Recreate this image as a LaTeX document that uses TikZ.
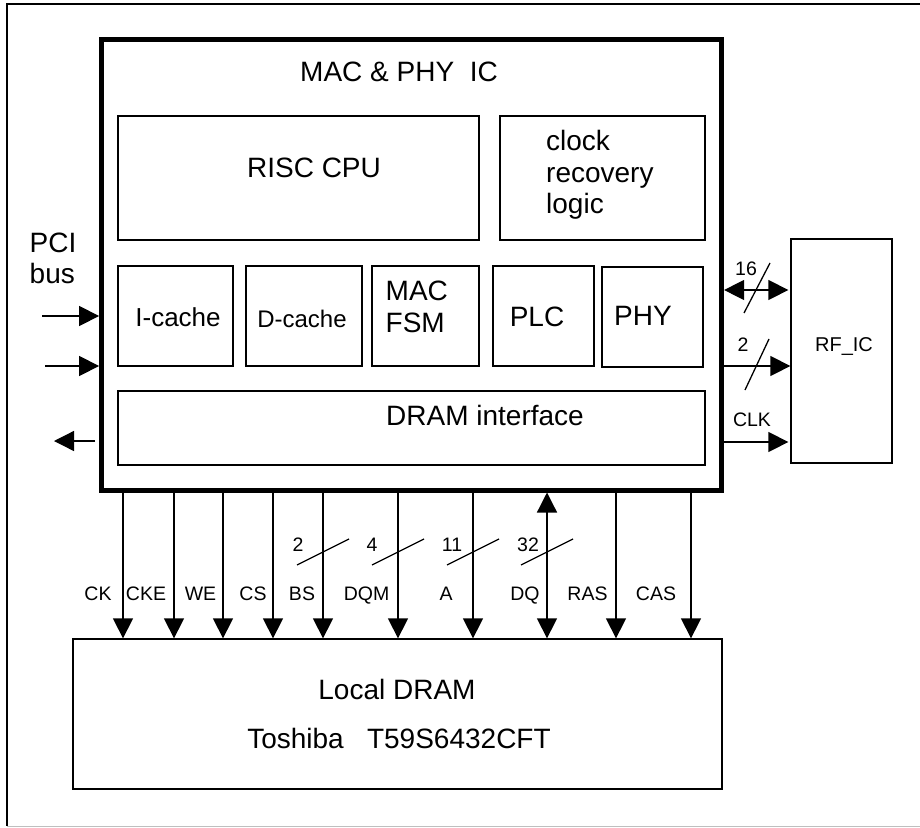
\documentclass[tikz,border=0pt]{standalone}
\usepackage{fontspec}
\setmainfont{Liberation Sans}
\usetikzlibrary{arrows.meta,calc}
\begin{document}
\begin{tikzpicture}[x=1pt,y=-1pt,
  box/.style={draw, line width=1.3pt, inner sep=0pt},
  icbox/.style={draw, line width=5pt, inner sep=0pt},
  big/.style={font=\fontsize{28}{32}\selectfont, inner sep=0pt, anchor=base},
  bigl/.style={font=\fontsize{28}{32}\selectfont, inner sep=0pt, anchor=base west},
  small/.style={font=\fontsize{19.5}{22}\selectfont, inner sep=0pt, anchor=base},
  sig/.style={line width=1.3pt, -{Triangle[length=20pt,width=20pt]}},
  sigb/.style={line width=1.3pt, {Triangle[length=20pt,width=20pt]}-{Triangle[length=20pt,width=20pt]}},
  slash/.style={line width=1.3pt}
]
\useasboundingbox (0,0) rectangle (920,827);
% outer frame
\draw[line width=2pt] (920,4) -- (7,4) -- (7,826);
\draw[gray!50, line width=1pt] (7,826) -- (920,826);

% main IC
\node[icbox, minimum width=620pt, minimum height=450.5pt] (ic) at (411.6,264.75) {};
\node[big] (ictitle) at (399,81.7) {MAC \& PHY\ \ IC};

\node[box, minimum width=361pt, minimum height=124pt] (risc) at (298.5,178) {};
\node[big] (risct) at (314,177) {RISC CPU};

\node[box, minimum width=205pt, minimum height=124pt] (clk) at (602.5,178) {};
\node[bigl] (clkt1) at (546,150) {clock};
\node[bigl] (clkt2) at (546,182) {recovery};
\node[bigl] (clkt3) at (546,213) {logic};

\node[box, minimum width=115pt, minimum height=100pt] (icache) at (175.5,316) {};
\node[big, font=\fontsize{26}{30}\selectfont] (icachet) at (178,326.7) {I-cache};

\node[box, minimum width=116pt, minimum height=100pt] (dcache) at (304,316) {};
\node[big, font=\fontsize{24}{28}\selectfont] (dcachet) at (302,327.3) {D-cache};

\node[box, minimum width=107pt, minimum height=100pt] (macfsm) at (425.5,316) {};
\node[bigl] (macfsmt1) at (385.5,300.7) {MAC};
\node[bigl] (macfsmt2) at (385.5,332.7) {FSM};

\node[box, minimum width=101pt, minimum height=100pt] (plc) at (543.5,316) {};
\node[big] (plct) at (537,326) {PLC};

\node[box, minimum width=101pt, minimum height=100pt] (phy) at (652.5,317) {};
\node[big] (phyt) at (643,325) {PHY};

\node[box, minimum width=587pt, minimum height=74pt] (dramif) at (411.5,428) {};
\node[big] (dramift) at (485,425) {DRAM interface};

% RF IC
\node[box, minimum width=101pt, minimum height=224pt] (rf) at (841.5,351) {};
\node[big, font=\fontsize{20}{24}\selectfont] (rft) at (844,351.7) {RF\_IC};

% Local DRAM
\node[box, minimum width=649pt, minimum height=150pt] (dram) at (397.5,714) {};
\node[big] (dramt1) at (397,699.3) {Local DRAM};
\node[big] (dramt2) at (399,748.3) {Toshiba\ \ \ T59S6432CFT};

% PCI bus
\node[bigl] (pcit1) at (29.5,252) {PCI};
\node[bigl] (pcit2) at (29.5,283) {bus};
\coordinate (pci1) at (42,316);
\coordinate (pci2) at (45,366);
\coordinate (pci3) at (54,441);
\draw[sig] (pci1) -- (pci1 -| ic.west);
\draw[sig] (pci2) -- (pci2 -| ic.west);
\draw[sig, shorten <=4pt] (pci3 -| ic.west) -- (pci3);

% right side signals
\coordinate (r16) at (757,290);
\coordinate (r2) at (757,366);
\coordinate (rclk) at (757,442);
\draw[sigb, shorten >=2pt] (r16 -| ic.east) -- (r16 -| rf.west);
\draw[sig] (r2 -| ic.east) -- (r2 -| rf.west);
\draw[sig, shorten >=2pt] (rclk -| ic.east) -- (rclk -| rf.west);
\draw[slash] ($(r16)+(-13,23)$) -- ($(r16)+(13,-27)$);
\draw[slash] ($(r2)+(-12,24)$) -- ($(r2)+(12,-27)$);
\node[small] (l16) at (746,275) {16};
\node[small] (l2r) at (743,351.7) {2};
\node[small] (lclk) at (752,426.7) {CLK};

% bottom signals
\foreach \n/\x in {ck/123, cke/174, we/223, cs/273, bs/323, dqm/398, a/473, ras/616, cas/691}{
  \coordinate (\n) at (\x,552);
  \draw[sig] (ic.south -| \n) -- (dram.north -| \n);
}
\coordinate (dq) at (547,552);
\draw[sigb] (ic.south -| dq) -- (dram.north -| dq);
\foreach \n in {bs, dqm, a, dq}{
  \draw[slash] ($(\n)+(-26,13)$) -- ($(\n)+(26,-13)$);
}
\foreach \t/\x in {CK/98, CKE/146, WE/200.5, CS/253, BS/302, DQM/366.5, A/446, DQ/525, RAS/587.5, CAS/656}{
  \node[small] (lab\t) at (\x,600.7) {\t};
}
\node[small] (nbs) at (298,551.7) {2};
\node[small] (ndqm) at (372,551.7) {4};
\node[small] (na) at (452,551.7) {11};
\node[small] (ndq) at (528,551.7) {32};
\end{tikzpicture}
\end{document}
